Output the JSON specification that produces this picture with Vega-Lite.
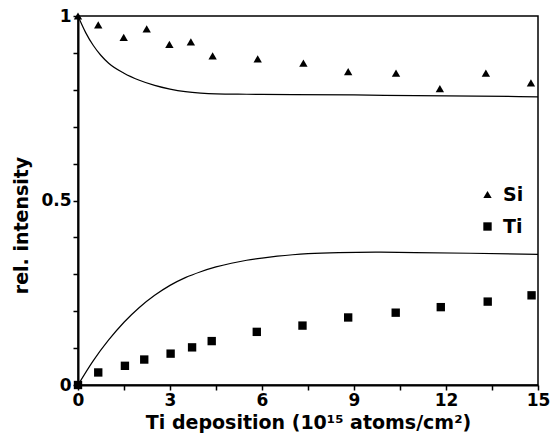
{
  "$schema": "https://vega.github.io/schema/vega-lite/v6.json",
  "width": 460,
  "height": 369,
  "autosize": "none",
  "padding": {"left": 78, "top": 16, "right": 16, "bottom": 48},
  "background": "white",
  "config": {
    "view": {"stroke": "black", "strokeWidth": 1.5},
    "font": "DejaVu Sans",
    "axis": {
      "grid": false,
      "domainColor": "black",
      "domainWidth": 2,
      "tickColor": "black",
      "tickWidth": 1.5,
      "tickSize": 5,
      "labelFont": "DejaVu Sans",
      "labelFontWeight": "bold",
      "labelFontSize": 17,
      "labelColor": "black",
      "labelFlush": false,
      "labelOverlap": false,
      "titleFont": "DejaVu Sans",
      "titleFontWeight": "bold",
      "titleFontSize": 19,
      "titleColor": "black"
    },
    "legend": {
      "symbolFillColor": "black",
      "symbolStrokeColor": "black",
      "labelFont": "DejaVu Sans",
      "labelFontWeight": "bold",
      "labelFontSize": 19,
      "labelColor": "black"
    }
  },
  "datasets": {
    "points": [
      {"series": "Si", "x": 0, "y": 1.0},
      {"series": "Si", "x": 0.66, "y": 0.976},
      {"series": "Si", "x": 1.49, "y": 0.942},
      {"series": "Si", "x": 2.24, "y": 0.965},
      {"series": "Si", "x": 2.98, "y": 0.923},
      {"series": "Si", "x": 3.68, "y": 0.930},
      {"series": "Si", "x": 4.39, "y": 0.892},
      {"series": "Si", "x": 5.86, "y": 0.884},
      {"series": "Si", "x": 7.35, "y": 0.872},
      {"series": "Si", "x": 8.81, "y": 0.849},
      {"series": "Si", "x": 10.37, "y": 0.845},
      {"series": "Si", "x": 11.80, "y": 0.803},
      {"series": "Si", "x": 13.30, "y": 0.845},
      {"series": "Si", "x": 14.77, "y": 0.819},
      {"series": "Ti", "x": 0, "y": 0.0},
      {"series": "Ti", "x": 0.66, "y": 0.034},
      {"series": "Ti", "x": 1.53, "y": 0.052},
      {"series": "Ti", "x": 2.16, "y": 0.069},
      {"series": "Ti", "x": 3.02, "y": 0.085},
      {"series": "Ti", "x": 3.72, "y": 0.102},
      {"series": "Ti", "x": 4.36, "y": 0.119},
      {"series": "Ti", "x": 5.83, "y": 0.144},
      {"series": "Ti", "x": 7.32, "y": 0.161},
      {"series": "Ti", "x": 8.81, "y": 0.183},
      {"series": "Ti", "x": 10.36, "y": 0.196},
      {"series": "Ti", "x": 11.83, "y": 0.211},
      {"series": "Ti", "x": 13.36, "y": 0.226},
      {"series": "Ti", "x": 14.79, "y": 0.243}
    ],
    "fits": [
      {"series": "Si fit", "x": 0, "y": 1.0},
      {"series": "Si fit", "x": 0.25, "y": 0.955},
      {"series": "Si fit", "x": 0.5, "y": 0.92},
      {"series": "Si fit", "x": 0.75, "y": 0.893},
      {"series": "Si fit", "x": 1.0, "y": 0.872},
      {"series": "Si fit", "x": 1.5, "y": 0.845},
      {"series": "Si fit", "x": 2.0, "y": 0.826},
      {"series": "Si fit", "x": 2.5, "y": 0.812},
      {"series": "Si fit", "x": 3.0, "y": 0.802},
      {"series": "Si fit", "x": 3.5, "y": 0.795},
      {"series": "Si fit", "x": 4.0, "y": 0.791},
      {"series": "Si fit", "x": 4.5, "y": 0.789},
      {"series": "Si fit", "x": 5.5, "y": 0.788},
      {"series": "Si fit", "x": 7.0, "y": 0.787},
      {"series": "Si fit", "x": 9.0, "y": 0.786},
      {"series": "Si fit", "x": 11.0, "y": 0.784},
      {"series": "Si fit", "x": 13.0, "y": 0.783},
      {"series": "Si fit", "x": 15.0, "y": 0.781},
      {"series": "Ti fit", "x": 0, "y": 0.0},
      {"series": "Ti fit", "x": 0.5, "y": 0.066},
      {"series": "Ti fit", "x": 1.0, "y": 0.122},
      {"series": "Ti fit", "x": 1.5, "y": 0.170},
      {"series": "Ti fit", "x": 2.0, "y": 0.210},
      {"series": "Ti fit", "x": 2.5, "y": 0.243},
      {"series": "Ti fit", "x": 3.0, "y": 0.270},
      {"series": "Ti fit", "x": 3.5, "y": 0.291},
      {"series": "Ti fit", "x": 4.0, "y": 0.307},
      {"series": "Ti fit", "x": 4.5, "y": 0.320},
      {"series": "Ti fit", "x": 5.0, "y": 0.330},
      {"series": "Ti fit", "x": 5.5, "y": 0.338},
      {"series": "Ti fit", "x": 6.0, "y": 0.344},
      {"series": "Ti fit", "x": 6.5, "y": 0.349},
      {"series": "Ti fit", "x": 7.0, "y": 0.353},
      {"series": "Ti fit", "x": 7.5, "y": 0.356},
      {"series": "Ti fit", "x": 8.5, "y": 0.359},
      {"series": "Ti fit", "x": 9.7, "y": 0.360},
      {"series": "Ti fit", "x": 11.0, "y": 0.359},
      {"series": "Ti fit", "x": 12.8, "y": 0.357},
      {"series": "Ti fit", "x": 15.0, "y": 0.354}
    ]
  },
  "encoding": {
    "x": {
      "field": "x",
      "type": "quantitative",
      "scale": {"domain": [0, 15], "nice": false, "zero": false},
      "axis": {
        "title": "Ti deposition (10¹⁵ atoms/cm²)",
        "values": [0, 1.5, 3, 4.5, 6, 7.5, 9, 10.5, 12, 13.5, 15],
        "labelExpr": "datum.value % 3 == 0 ? format(datum.value, 'd') : ''",
        "labelPadding": 2,
        "titleBaseline": "alphabetic",
        "titleY": 43
      }
    },
    "y": {
      "field": "y",
      "type": "quantitative",
      "scale": {"domain": [0, 1], "nice": false},
      "axis": {
        "title": "rel. intensity",
        "values": [0, 0.1, 0.2, 0.3, 0.4, 0.5, 0.6, 0.7, 0.8, 0.9, 1],
        "labelExpr": "datum.value == 0 ? '0' : (abs(datum.value - 0.5) < 0.001 ? '0.5' : (datum.value == 1 ? '1' : ''))",
        "labelPadding": 2,
        "titleBaseline": "alphabetic",
        "titleAngle": -90,
        "titleX": -51,
        "titleY": 209
      }
    }
  },
  "layer": [
    {
      "data": {"name": "fits"},
      "mark": {"type": "line", "color": "black", "strokeWidth": 1.2, "interpolate": "monotone"},
      "encoding": {"detail": {"field": "series"}}
    },
    {
      "data": {"name": "points"},
      "mark": {"type": "point", "filled": true, "color": "black", "size": 70, "opacity": 1},
      "encoding": {
        "shape": {
          "field": "series",
          "type": "nominal",
          "scale": {"domain": ["Si", "Ti"], "range": ["triangle-up", "square"]},
          "legend": {
            "title": null,
            "orient": "none",
            "legendX": 400,
            "legendY": 169,
            "padding": 0,
            "symbolSize": 70,
            "rowPadding": 12,
            "labelOffset": 6
          }
        }
      }
    }
  ]
}
